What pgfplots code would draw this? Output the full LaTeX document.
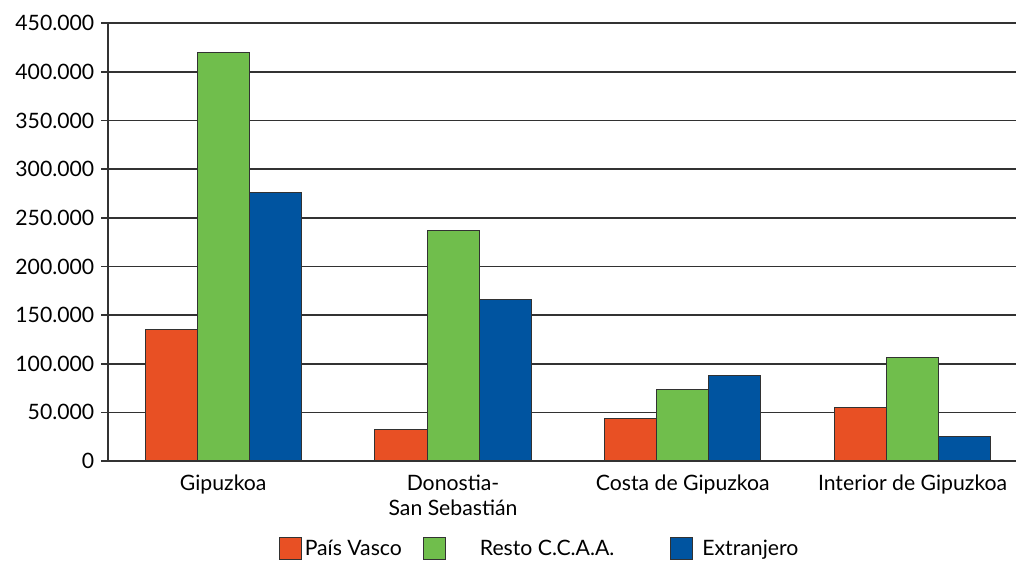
\documentclass[border=0pt]{standalone}
\usepackage{fontspec}
\setmainfont{Lato}
\usepackage{pgfplots}
\pgfplotsset{compat=1.18}

\definecolor{cRed}{RGB}{232,80,36}
\definecolor{cGreen}{RGB}{112,190,76}
\definecolor{cBlue}{RGB}{0,84,160}
\definecolor{cLine}{RGB}{50,50,50}

\begin{document}
\begin{tikzpicture}
\begin{axis}[
    scale only axis,
    width=453.85pt, height=218.85pt,
    ybar=0pt, bar width=26pt,
    xmin=-0.5, xmax=3.45,
    ymin=0, ymax=450000,
    ytick={0,50000,...,450000},
    scaled y ticks=false,
    /pgf/number format/.cd, fixed, 1000 sep={.}, assume math mode=true, /pgfplots/.cd,
    xtick=data,
    xticklabels={Gipuzkoa, {Donostia-\\San Sebastián}, Costa de Gipuzkoa, Interior de Gipuzkoa},
    xticklabel style={align=center, font=\fontsize{10.6}{12.5}\selectfont},
    yticklabel style={font=\fontsize{10.6}{12.5}\selectfont},
    axis x line=bottom, axis y line=left,
    axis line style={-, cLine, line width=0.8pt},
    ymajorgrids, grid style={cLine, line width=0.8pt},
    tick align=outside, major tick length=3.5pt,
    ytick style={cLine, line width=0.8pt},
    xtick style={draw=none},
    every axis plot/.append style={draw=cLine, line width=0.5pt},
    legend image code/.code={\draw[#1] (0pt,-5.5pt) rectangle (11pt,5.5pt);},
    legend columns=-1,
    legend style={draw=none, fill=none, at={([yshift=-44pt]axis description cs:0.474,0)}, anchor=center,
        font=\fontsize{10.6}{12.5}\selectfont, nodes={inner sep=0pt},
        /tikz/every even column/.append style={column sep=0pt}},
]
\addplot[fill=cRed] coordinates {(0,135700) (1,32200) (2,43500) (3,55500)};
\addlegendentry{\kern1.5pt País Vasco\kern10.5pt}
\addplot[fill=cGreen] coordinates {(0,419700) (1,236700) (2,73300) (3,106600)};
\addlegendentry{\kern17pt Resto C.C.A.A.\kern28pt}
\addplot[fill=cBlue] coordinates {(0,276200) (1,166500) (2,87700) (3,24700)};
\addlegendentry{\kern4.5pt Extranjero}
\coordinate (bl) at (rel axis cs:0,0);
\coordinate (tr) at (rel axis cs:1,1);
\end{axis}
\pgfresetboundingbox
\path ([xshift=-54.15pt,yshift=-50pt]bl) rectangle ([yshift=11.65pt]tr);
\end{tikzpicture}
\end{document}
